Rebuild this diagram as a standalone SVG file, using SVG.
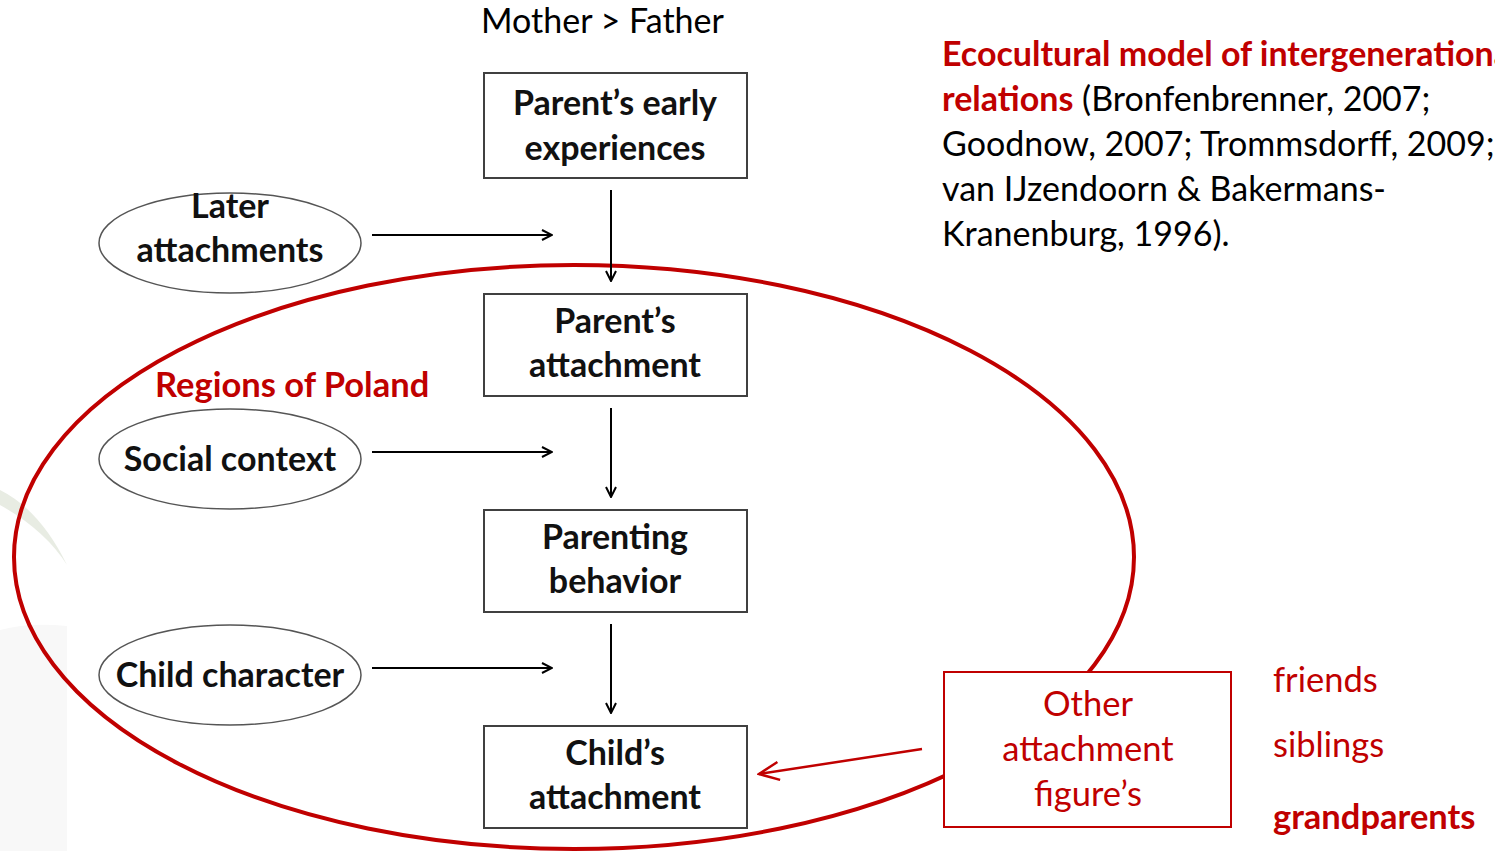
<svg xmlns="http://www.w3.org/2000/svg" width="1495" height="851" viewBox="0 0 1495 851">
<defs>
<style>
.box{fill:#fff;stroke:#404040;stroke-width:2}
.oval{fill:#fff;stroke:#555;stroke-width:1.5}
.bt{font-family:Lato,"Liberation Sans",sans-serif;font-weight:bold;font-size:34px;fill:#111;text-anchor:middle}
.rt{font-family:Lato,"Liberation Sans",sans-serif;font-size:34.5px;fill:#c00000}
.kt{font-family:Lato,"Liberation Sans",sans-serif;font-size:34px;fill:#000}
.con{stroke:#000;stroke-width:2;fill:none}
</style>
<marker id="ah" viewBox="0 0 12 12" refX="11" refY="6" markerWidth="12" markerHeight="12" markerUnits="userSpaceOnUse" orient="auto"><path d="M1,1 L11,6 L1,11" fill="none" stroke="#000" stroke-width="2"/></marker>
<marker id="ahr" viewBox="0 0 24 24" refX="22" refY="12" markerWidth="24" markerHeight="24" markerUnits="userSpaceOnUse" orient="auto"><path d="M2,3 L22,12 L2,21" fill="none" stroke="#c00000" stroke-width="2.5"/></marker>
</defs>
<rect width="1495" height="851" fill="#fff"/>
<g id="background">
<path d="M0,490 Q40,510 67,565 Q45,530 0,505 Z" fill="#e8ece3"/>
<path d="M0,630 Q30,622 67,626 L67,851 L0,851 Z" fill="#f8f8f8"/>
</g>
<g id="region">
<ellipse cx="574" cy="557" rx="560" ry="292" fill="none" stroke="#c00000" stroke-width="4"/>
<text class="rt" x="155" y="397" font-weight="bold">Regions of Poland</text>
</g>
<g id="title">
<text class="kt" x="481" y="33" font-size="34.5">Mother &gt; Father</text>
</g>
<g id="caption">
<text class="kt" x="942" y="66"><tspan fill="#c00000" font-weight="bold">Ecocultural model of intergenerational</tspan></text>
<text class="kt" x="942" y="111"><tspan fill="#c00000" font-weight="bold">relations</tspan> (Bronfenbrenner, 2007;</text>
<text class="kt" x="942" y="156">Goodnow, 2007; Trommsdorff, 2009;</text>
<text class="kt" x="942" y="201">van IJzendoorn &amp; Bakermans-</text>
<text class="kt" x="942" y="246">Kranenburg, 1996).</text>
</g>
<g id="connectors">
<line class="con" x1="372" y1="235" x2="552" y2="235" stroke-width="3" marker-end="url(#ah)"/>
<line class="con" x1="372" y1="452" x2="552" y2="452" marker-end="url(#ah)"/>
<line class="con" x1="372" y1="668" x2="552" y2="668" marker-end="url(#ah)"/>
<line class="con" x1="611" y1="190" x2="611" y2="281" marker-end="url(#ah)"/>
<line class="con" x1="611" y1="408" x2="611" y2="497" marker-end="url(#ah)"/>
<line class="con" x1="611" y1="624" x2="611" y2="713" marker-end="url(#ah)"/>
<line x1="922" y1="749" x2="759" y2="774" stroke="#c00000" stroke-width="2.5" marker-end="url(#ahr)"/>
</g>
<g id="n-early">
<rect class="box" x="484" y="73" width="263" height="105"/>
<text class="bt" x="615" y="115">Parent’s early</text>
<text class="bt" x="615" y="160">experiences</text>
</g>
<g id="n-pattach">
<rect class="box" x="484" y="294" width="263" height="102"/>
<text class="bt" x="615" y="333">Parent’s</text>
<text class="bt" x="615" y="377">attachment</text>
</g>
<g id="n-parenting">
<rect class="box" x="484" y="510" width="263" height="102"/>
<text class="bt" x="615" y="549">Parenting</text>
<text class="bt" x="615" y="593">behavior</text>
</g>
<g id="n-child">
<rect class="box" x="484" y="726" width="263" height="102"/>
<text class="bt" x="615" y="765">Child’s</text>
<text class="bt" x="615" y="809">attachment</text>
</g>
<g id="n-later">
<ellipse class="oval" cx="230" cy="243" rx="131" ry="50"/>
<text class="bt" x="230" y="218">Later</text>
<text class="bt" x="230" y="262">attachments</text>
</g>
<g id="n-social">
<ellipse class="oval" cx="230" cy="459" rx="131" ry="50"/>
<text class="bt" x="230" y="471">Social context</text>
</g>
<g id="n-childchar">
<ellipse class="oval" cx="230" cy="675" rx="131" ry="50"/>
<text class="bt" x="230" y="687">Child character</text>
</g>
<g id="n-other">
<rect x="944" y="672" width="287" height="155" fill="#fff" stroke="#c00000" stroke-width="2"/>
<text class="rt" x="1088" y="716" text-anchor="middle">Other</text>
<text class="rt" x="1088" y="761" text-anchor="middle">attachment</text>
<text class="rt" x="1088" y="806" text-anchor="middle">figure’s</text>
</g>
<g id="others-list">
<text class="rt" x="1273" y="692">friends</text>
<text class="rt" x="1273" y="757">siblings</text>
<text class="rt" x="1273" y="829" font-weight="bold">grandparents</text>
</g>
</svg>
